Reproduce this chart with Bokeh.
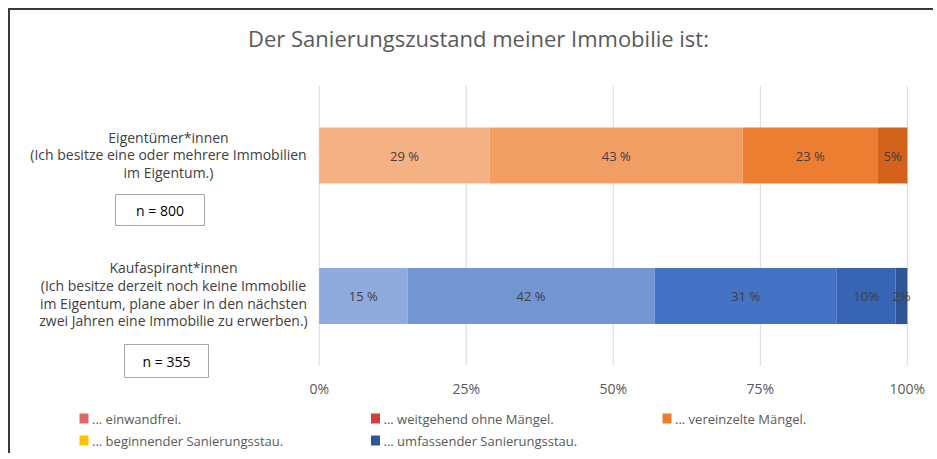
import numpy as np
from bokeh.plotting import figure
from bokeh.models import ColumnDataSource, Range1d
from bokeh.core.properties import value
from bokeh.embed import file_html
from bokeh.resources import INLINE

# ---------------- data ----------------
groups = ["Kaufaspirant*innen", "Eigentümer*innen"]          # bottom -> top
group_texts = [
    "Kaufaspirant*innen\n(Ich besitze derzeit noch keine Immobilie\nim Eigentum, plane aber in den nächsten\nzwei Jahren eine Immobilie zu erwerben.)",
    "Eigentümer*innen\n(Ich besitze eine oder mehrere Immobilien\nim Eigentum.)",
]
group_n = ["n = 355", "n = 800"]

owners_values = [29, 43, 23, 5]
owners_labels = ["29 %", "43 %", "23 %", "5%"]
owners_colors = ["#F4B183", "#F09E64", "#ED7D31", "#D3621A"]

buyers_values = [15, 42, 31, 10, 2]
buyers_labels = ["15 %", "42 %", "31 %", "10%", "2%"]
buyers_colors = ["#8FAADC", "#7396D3", "#4472C4", "#3764B4", "#2F5597"]

legend_labels = ["... einwandfrei.", "... weitgehend ohne Mängel.", "... vereinzelte Mängel.",
                 "... beginnender Sanierungsstau.", "... umfassender Sanierungsstau."]
legend_colors = ["#E06666", "#D13F3F", "#ED7D31", "#FFC000", "#2F5597"]

tick_values = [0, 0.25, 0.5, 0.75, 1.0]
tick_labels = ["0%", "25%", "50%", "75%", "100%"]
title_text = "Der Sanierungszustand meiner Immobilie ist:"

# ---------------- layout constants (pixels) ----------------
W, H = 925, 445
FONT = "Open Sans"
PX_PER_UNIT_Y = 140.5
TOP_CENTER, BOTTOM_CENTER = 145.0, 285.5     # pixel centre of the two bars
GRID_TOP, GRID_BOTTOM = 75, 355
TICK_Y = 378
TITLE_X, TITLE_Y = 468, 27
LEG_X0, LEG_Y0, LEG_DX, LEG_DY = 73.5, 408, 291.5, 22

# ---------------- build segments ----------------
gidx = {g: i for i, g in enumerate(groups)}
ys, lefts, rights, cols, labs, mids = [], [], [], [], [], []
for g, vals, lab, col in [("Eigentümer*innen", owners_values, owners_labels, owners_colors),
                          ("Kaufaspirant*innen", buyers_values, buyers_labels, buyers_colors)]:
    v = np.array(vals, dtype=float) / 100.0
    r = np.cumsum(v)
    l = r - v
    for i in range(len(v)):
        ys.append(gidx[g]); lefts.append(l[i]); rights.append(r[i]); cols.append(col[i])
        labs.append(lab[i]); mids.append((l[i] + r[i]) / 2)
src = ColumnDataSource(dict(y=ys, left=lefts, right=rights, color=cols, label=labs, mid=mids))

y_end = 1 + TOP_CENTER / PX_PER_UNIT_Y
y_start = -(H - BOTTOM_CENTER) / PX_PER_UNIT_Y

p = figure(width=W, height=H, output_backend="svg", toolbar_location=None,
           x_range=Range1d(-0.5248, 1.0478), y_range=Range1d(y_start, y_end),
           min_border_left=0, min_border_right=0, min_border_top=0, min_border_bottom=0,
           outline_line_color=None,
           styles={"margin-left": "8px", "margin-top": "8px",
                   "border-top": "2px solid #3a3a3a", "border-left": "2px solid #3a3a3a"})
p.extra_x_ranges = {"px": Range1d(0, W)}
p.extra_y_ranges = {"px": Range1d(H, 0)}
p.xaxis.visible = False
p.yaxis.visible = False
p.xgrid.visible = False
p.ygrid.visible = False

# title
p.text(x=[TITLE_X], y=[TITLE_Y], text=[title_text], x_range_name="px", y_range_name="px",
       text_align="center", text_baseline="middle", text_font=value(FONT),
       text_font_size="22px", text_color="#595959")

# vertical grid lines + tick labels
p.segment(x0=tick_values, x1=tick_values, y0=[GRID_TOP] * len(tick_values),
          y1=[GRID_BOTTOM] * len(tick_values), y_range_name="px",
          line_color="#D9D9D9", line_width=1)
p.text(x=tick_values, y=[TICK_Y] * len(tick_values), text=tick_labels, y_range_name="px",
       text_align="center", text_baseline="middle", text_font=value(FONT),
       text_font_size="14px", text_color="#595959")

# bars and their labels
p.hbar(y="y", left="left", right="right", height=0.4, fill_color="color",
       line_color=None, source=src)
p.text(x="mid", y="y", text="label", source=src, text_align="center",
       text_baseline="middle", text_font=value(FONT), text_font_size="13px",
       text_color="#404040")

# left group descriptions and n-boxes
desc = ColumnDataSource(dict(x=[163, 158], y=[BOTTOM_CENTER - 1.5, TOP_CENTER - 0.5],
                             text=group_texts, n=group_n,
                             bx=[156, 149.5], by=[350.5, 199.5], bw=[84, 89], bh=[33, 31]))
p.text(x="x", y="y", text="text", source=desc, x_range_name="px", y_range_name="px",
       text_align="center", text_baseline="middle", text_font=value(FONT),
       text_font_size="14px", text_color="#404040", text_line_height=0.93)
p.rect(x="bx", y="by", width="bw", height="bh", source=desc, x_range_name="px",
       y_range_name="px", fill_color="white", line_color="#A6A6A6", line_width=1)
p.text(x="bx", y="by", text="n", source=desc, x_range_name="px", y_range_name="px",
       text_align="center", text_baseline="middle", text_font=value(FONT),
       text_font_size="14px", text_color="#000000")

# legend (drawn as swatches + labels, 3 columns)
n = len(legend_labels)
lx = [LEG_X0 + (i % 3) * LEG_DX for i in range(n)]
ly = [LEG_Y0 + (i // 3) * LEG_DY for i in range(n)]
leg = ColumnDataSource(dict(x=lx, y=ly, tx=[x + 8 for x in lx], label=legend_labels,
                            color=legend_colors))
p.rect(x="x", y="y", width=9, height=10, source=leg, x_range_name="px", y_range_name="px",
       fill_color="color", line_color=None)
p.text(x="tx", y="y", text="label", source=leg, x_range_name="px", y_range_name="px",
       text_align="left", text_baseline="middle", text_font=value(FONT),
       text_font_size="13px", text_color="#595959")

open("out.html", "w").write(file_html(p, INLINE))
